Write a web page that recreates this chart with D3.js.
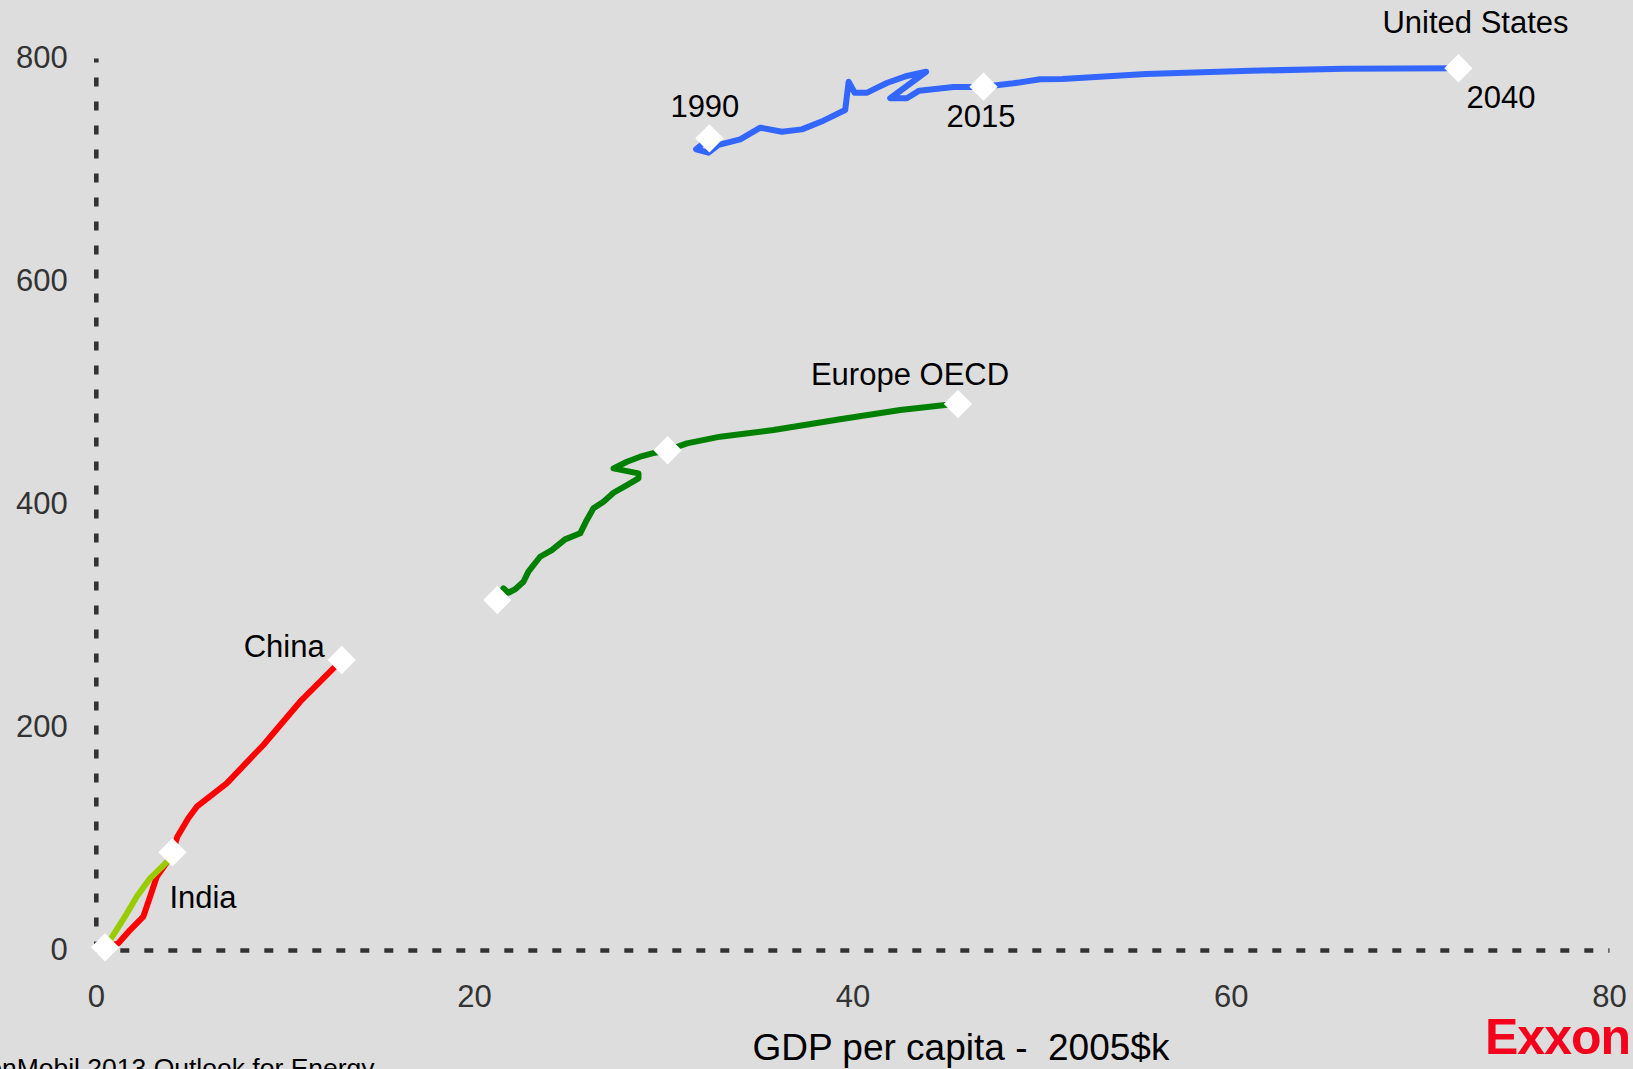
<!DOCTYPE html>
<html>
<head>
<meta charset="utf-8">
<script src="https://cdn.jsdelivr.net/npm/d3@7"></script>
<style>
  html, body { margin: 0; padding: 0; background: #dddddd; }
  svg { display: block; font-family: "Liberation Sans", Arial, sans-serif; }
</style>
</head>
<body>
<svg id="chart" width="1633" height="1069"></svg>
<script>
// [gdp per capita (2005$k), vehicles per 1000 people]
const unitedStates = [
  [32.44, 728.0], [31.74, 718.1], [32.39, 715.1], [32.92, 722.0], [34.07, 727.1],
  [35.13, 737.5], [36.27, 733.9], [37.33, 736.0], [38.47, 743.8], [39.62, 753.4],
  [39.80, 778.7], [40.12, 768.9], [40.78, 768.9], [41.82, 777.6], [42.88, 783.9],
  [43.90, 787.7], [42.00, 763.9], [42.88, 763.9], [43.53, 770.7], [45.35, 774.0],
  [46.34, 774.0], [46.93, 774.3], [48.52, 777.3], [49.93, 780.9], [51.09, 781.2],
  [55.52, 785.7], [61.04, 788.5], [65.95, 790.4], [72.04, 790.8],
];
const europeOecd = [
  [21.23, 313.9], [21.55, 324.4], [21.81, 320.4], [22.17, 323.5], [22.61, 330.3],
  [22.87, 339.3], [23.49, 352.7], [24.11, 358.7], [24.81, 368.3], [25.61, 373.7],
  [25.96, 385.7], [26.31, 396.1], [26.84, 402.1], [27.37, 410.1], [28.08, 417.0],
  [28.69, 423.0], [28.69, 427.5], [27.37, 432.0], [28.08, 437.9], [28.78, 442.4],
  [29.57, 446.0], [30.23, 448.2], [31.25, 454.4], [33.01, 460.4], [35.83, 466.4],
  [39.35, 476.0], [42.53, 484.3], [44.91, 488.8], [45.58, 489.7],
];
const china = [
  [0.49, 2.4], [1.19, 6.0], [1.81, 17.9], [2.51, 29.9], [2.87, 47.8],
  [3.22, 65.7], [3.78, 79.2], [4.06, 87.6], [4.31, 101.6], [4.89, 118.1],
  [5.34, 128.5], [6.92, 149.5], [8.86, 183.9], [10.80, 222.7], [12.56, 252.6],
  [13.00, 260.1],
];
const india = [
  [0.49, 2.4], [0.93, 13.5], [1.54, 29.9], [2.16, 47.8], [2.87, 64.3],
  [3.78, 79.2], [4.05, 87.6],
];

// white diamond markers
const markerPoints = [
  [32.44, 728.0], [46.93, 774.3], [72.04, 790.8],
  [21.23, 313.9], [30.23, 448.2], [45.58, 489.7],
  [0.49, 2.4], [4.05, 87.6], [13.00, 260.1],
];

const xTicks = [0, 20, 40, 60, 80];
const yTicks = [0, 200, 400, 600, 800];

const series = [
  { name: "United States", points: unitedStates, color: "#3366ff" },
  { name: "Europe OECD", points: europeOecd, color: "#008000" },
  { name: "China", points: china, color: "#ff0000" },
  { name: "India", points: india, color: "#99cc00" },
];

// text labels, anchored to a data point
const labels = [
  { text: "United States", at: [72.04, 790.8] },
  { text: "2040", at: [72.04, 790.8] },
  { text: "1990", at: [32.44, 728.0] },
  { text: "2015", at: [46.93, 774.3] },
  { text: "Europe OECD", at: [45.58, 489.7] },
  { text: "China", at: [13.00, 260.1] },
  { text: "India", at: [4.05, 87.6] },
];
// pixel offsets of each label from its anchor
const labelOffsets = {
  "United States": [-76, -35],
  "2040": [8, 40],
  "1990": [-39, -21],
  "2015": [-37, 40],
  "Europe OECD": [-147, -19],
  "China": [-98, -3],
  "India": [-3, 56],
};

const svg = d3.select("#chart");

svg.append("rect")
  .attr("width", 1633)
  .attr("height", 1069)
  .attr("fill", "#dddddd");

const xScale = d3.scaleLinear().domain([0, 80]).range([95.8, 1609]);
const yScale = d3.scaleLinear().domain([0, 800]).range([950, 58]);

// x axis: dotted baseline and tick labels
const xAxis = svg.append("g")
  .attr("transform", `translate(0, ${yScale(0)})`)
  .call(d3.axisBottom(xScale).tickValues(xTicks).tickSize(0).tickSizeOuter(0).tickPadding(35));

// y axis
const yAxis = svg.append("g")
  .attr("transform", `translate(${xScale(0)}, 0)`)
  .call(d3.axisLeft(yScale).tickValues(yTicks).tickSize(0).tickSizeOuter(0).tickPadding(28));

[xAxis, yAxis].forEach((axis) => {
  axis.select(".domain")
    .attr("stroke", "#333333")
    .attr("stroke-width", 4.6)
    .attr("stroke-dasharray", "9,15");
  axis.selectAll("text")
    .attr("fill", "#333333")
    .style("font-size", "31px")
    .style("font-family", "\"Liberation Sans\", Arial, sans-serif");
});

// the lines
const line = d3.line()
  .x((d) => xScale(d[0]))
  .y((d) => yScale(d[1]));

svg.append("g")
  .selectAll("path")
  .data(series)
  .join("path")
  .attr("d", (d) => line(d.points))
  .attr("fill", "none")
  .attr("stroke", (d) => d.color)
  .attr("stroke-width", 6)
  .attr("stroke-linejoin", "round")
  .attr("stroke-linecap", "round");

// diamonds
const diamond = d3.symbol().type(d3.symbolSquare).size(400);
svg.append("g")
  .selectAll("path")
  .data(markerPoints)
  .join("path")
  .attr("d", diamond)
  .attr("transform", (d) => `translate(${xScale(d[0])}, ${yScale(d[1])}) rotate(45)`)
  .attr("fill", "#ffffff");

svg.append("g")
  .selectAll("text")
  .data(labels)
  .join("text")
  .attr("x", (d) => xScale(d.at[0]) + labelOffsets[d.text][0])
  .attr("y", (d) => yScale(d.at[1]) + labelOffsets[d.text][1])
  .attr("fill", "#000000")
  .style("font-size", "31px")
  .text((d) => d.text);

// axis title
svg.append("text")
  .attr("x", 961)
  .attr("y", 1060)
  .attr("text-anchor", "middle")
  .style("font-size", "37px")
  .style("white-space", "pre")
  .attr("fill", "#000000")
  .text("GDP per capita -  2005$k");

// source line, clipped by the left edge
svg.append("text")
  .attr("x", -57)
  .attr("y", 1077)
  .style("font-size", "26.5px")
  .attr("fill", "#000000")
  .text("ExxonMobil 2013 Outlook for Energy");

// logo, clipped by the right edge
svg.append("text")
  .attr("x", 1485)
  .attr("y", 1054)
  .style("font-size", "50px")
  .style("font-weight", "bold")
  .style("letter-spacing", "-1px")
  .attr("fill", "#f5001c")
  .text("ExxonMobil");
</script>
</body>
</html>
